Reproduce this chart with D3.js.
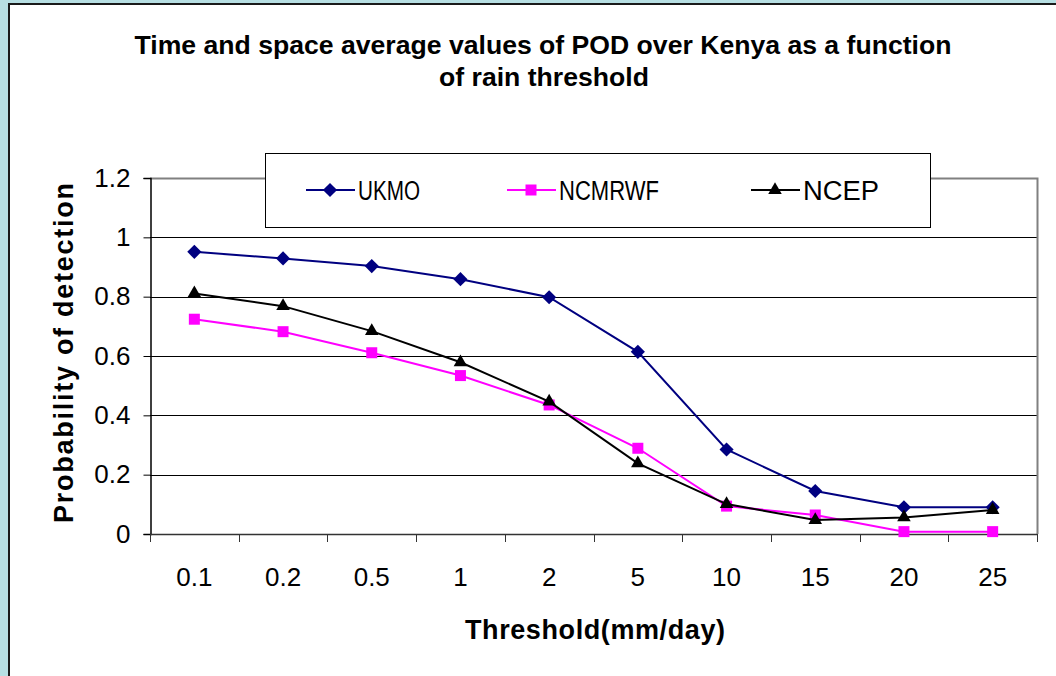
<!DOCTYPE html>
<html lang="en">
  <head>
    <meta charset="UTF-8" />
    <title>Time and space average values of POD over Kenya</title>
    <script src="https://d3js.org/d3.v7.min.js"></script>
    <style>
      * {
        margin: 0;
        padding: 0;
      }
      body {
        background: #b7dfe3;
        font-family: "Liberation Sans", Arial, sans-serif;
      }
      svg {
        display: block;
      }
      .tick-label {
        font-size: 26px;
        fill: #000;
      }
      .axis-title {
        font-size: 27px;
        font-weight: bold;
        fill: #000;
      }
      .legend-text {
        font-size: 27px;
        fill: #000;
      }
    </style>
  </head>
  <body>
    <div id="chart"></div>
    <script>
      const categories = ["0.1", "0.2", "0.5", "1", "2", "5", "10", "15", "20", "25"];
      const ukmo = [0.951, 0.929, 0.903, 0.859, 0.798, 0.614, 0.285, 0.145, 0.09, 0.09];
      const ncmrwf = [0.724, 0.682, 0.611, 0.534, 0.435, 0.289, 0.094, 0.064, 0.008, 0.008];
      const ncep = [0.811, 0.768, 0.684, 0.579, 0.446, 0.238, 0.101, 0.047, 0.056, 0.081];
      const yTicks = [0, 0.2, 0.4, 0.6, 0.8, 1, 1.2];
      const seriesNames = ["UKMO", "NCMRWF", "NCEP"];

      const W = 1056,
        H = 676;
      const plot = { left: 150, right: 1037, top: 178, bottom: 534 };

      const svg = d3
        .select("#chart")
        .append("svg")
        .attr("width", W)
        .attr("height", H);

      // white chart frame
      svg
        .append("rect")
        .attr("x", 9)
        .attr("y", 4)
        .attr("width", W)
        .attr("height", H)
        .attr("fill", "#fff");
      svg
        .append("path")
        .attr("d", `M9,${H} V4 H${W}`)
        .attr("fill", "none")
        .attr("stroke", "#1a1a1a")
        .attr("stroke-width", 2);

      const x = d3
        .scaleBand()
        .domain(categories)
        .range([plot.left, plot.right]);

      const y = d3
        .scaleLinear()
        .domain([0, 1.2])
        .range([plot.bottom, plot.top]);

      // gridlines
      svg
        .append("g")
        .selectAll("line")
        .data(yTicks.filter((d) => d > 0 && d < 1.2))
        .enter()
        .append("line")
        .attr("x1", plot.left)
        .attr("x2", plot.right)
        .attr("y1", (d) => Math.round(y(d)) + 0.5)
        .attr("y2", (d) => Math.round(y(d)) + 0.5)
        .attr("stroke", "#000")
        .attr("stroke-width", 1);

      // plot border top + right (gray)
      svg
        .append("path")
        .attr(
          "d",
          `M${plot.left},${y(1.2) + 0.5} H${plot.right + 0.5} V${plot.bottom}`
        )
        .attr("fill", "none")
        .attr("stroke", "#808080")
        .attr("stroke-width", 2);

      // y axis
      const yAxis = svg
        .append("g")
        .attr("transform", `translate(${plot.left + 0.5},0)`)
        .call(
          d3
            .axisLeft(y)
            .tickValues(yTicks)
            .tickSize(7)
            .tickPadding(13)
            .tickFormat((d) => String(+d.toFixed(1)))
        );
      yAxis.select(".domain").attr("stroke", "#000").attr("stroke-width", 1.5);
      yAxis.selectAll(".tick line").attr("stroke", "#000");
      yAxis
        .selectAll(".tick text")
        .attr("class", "tick-label")
        .attr("font-family", null)
        .attr("font-size", null);

      // x axis: labels centred in bands, ticks at band edges
      const xAxis = svg
        .append("g")
        .attr("transform", `translate(0,${plot.bottom + 0.5})`)
        .call(d3.axisBottom(x).tickSize(0).tickPadding(33));
      xAxis.select(".domain").remove();
      xAxis
        .selectAll(".tick text")
        .attr("class", "tick-label")
        .attr("font-family", null)
        .attr("font-size", null);

      svg
        .append("line")
        .attr("x1", plot.left)
        .attr("x2", plot.right)
        .attr("y1", plot.bottom + 0.5)
        .attr("y2", plot.bottom + 0.5)
        .attr("stroke", "#333")
        .attr("stroke-width", 1.5);

      const edges = categories.map((c) => x(c)).concat([x.range()[1]]);
      svg
        .append("g")
        .selectAll("line")
        .data(edges)
        .enter()
        .append("line")
        .attr("x1", (d) => Math.round(d) + 0.5)
        .attr("x2", (d) => Math.round(d) + 0.5)
        .attr("y1", plot.bottom)
        .attr("y2", plot.bottom + 8)
        .attr("stroke", "#333")
        .attr("stroke-width", 1);

      // title
      const title = svg
        .append("text")
        .attr("class", "axis-title")
        .attr("text-anchor", "middle")
        .style("font-size", "26.6px");
      title
        .append("tspan")
        .attr("x", 543)
        .attr("y", 54)
        .text("Time and space average values of POD over Kenya as a function");
      title
        .append("tspan")
        .attr("x", 544)
        .attr("y", 86)
        .text("of rain threshold");

      // axis titles
      svg
        .append("text")
        .attr("class", "axis-title")
        .attr("text-anchor", "middle")
        .attr("transform", `translate(73,${(plot.top + plot.bottom) / 2 - 3}) rotate(-90)`)
        .attr("textLength", 340)
        .attr("lengthAdjust", "spacing")
        .text("Probability of detection");

      svg
        .append("text")
        .attr("class", "axis-title")
        .attr("text-anchor", "middle")
        .attr("x", 595)
        .attr("y", 639)
        .attr("textLength", 260)
        .attr("lengthAdjust", "spacing")
        .text("Threshold(mm/day)");

      // series
      const series = [
        { name: seriesNames[0], values: ukmo, color: "#000080", symbol: d3.symbolSquare, size: 100, rotate: 45 },
        { name: seriesNames[1], values: ncmrwf, color: "#ff00ff", symbol: d3.symbolSquare, size: 121, rotate: 0 },
        { name: seriesNames[2], values: ncep, color: "#000000", symbol: d3.symbolTriangle, size: 80, rotate: 0 },
      ];

      const line = d3
        .line()
        .x((d, i) => x(categories[i]) + x.bandwidth() / 2)
        .y((d) => y(d));

      series.forEach((s) => {
        svg
          .append("path")
          .datum(s.values)
          .attr("d", line)
          .attr("fill", "none")
          .attr("stroke", s.color)
          .attr("stroke-width", 2);

        svg
          .append("g")
          .selectAll("path")
          .data(s.values)
          .enter()
          .append("path")
          .attr("d", d3.symbol().type(s.symbol).size(s.size))
          .attr(
            "transform",
            (d, i) =>
              `translate(${x(categories[i]) + x.bandwidth() / 2},${y(d)}) rotate(${s.rotate})`
          )
          .attr("fill", s.color);
      });

      // legend
      const legend = svg.append("g");
      legend
        .append("rect")
        .attr("x", 265.5)
        .attr("y", 153.5)
        .attr("width", 665)
        .attr("height", 74)
        .attr("fill", "#fff")
        .attr("stroke", "#000")
        .attr("stroke-width", 1);

      const legendX = [330, 531, 775];
      const legendTextLen = [62, 100, 76];
      const ly = 190;
      series.forEach((s, i) => {
        const cx = legendX[i];
        legend
          .append("line")
          .attr("x1", cx - 24)
          .attr("x2", cx + 25)
          .attr("y1", ly)
          .attr("y2", ly)
          .attr("stroke", s.color)
          .attr("stroke-width", 2);
        legend
          .append("path")
          .attr("d", d3.symbol().type(s.symbol).size(s.size))
          .attr("transform", `translate(${cx},${ly}) rotate(${s.rotate})`)
          .attr("fill", s.color);
        legend
          .append("text")
          .attr("class", "legend-text")
          .attr("x", cx + 28)
          .attr("y", ly + 10)
          .attr("textLength", legendTextLen[i])
          .attr("lengthAdjust", "spacingAndGlyphs")
          .text(s.name);
      });
    </script>
  </body>
</html>
